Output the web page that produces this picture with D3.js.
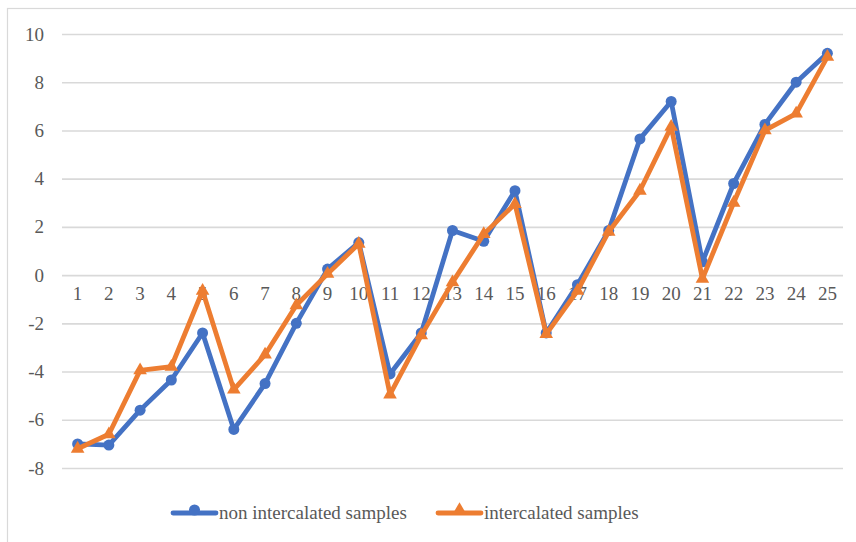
<!DOCTYPE html>
<html>
<head>
<meta charset="utf-8">
<script src="https://cdn.jsdelivr.net/npm/d3@7"></script>
<style>
  html, body { margin: 0; padding: 0; background: #fff; }
  svg { display: block; }
</style>
</head>
<body>
<svg id="chart" width="856" height="542"></svg>
<script>
// Sample numbers along the x axis
const categories = d3.range(1, 26).map(String);

// Measured values per sample
const nonIntercalated = [-7.0, -7.05, -5.6, -4.35, -2.4, -6.4, -4.5, -2.0, 0.25, 1.35,
  -4.1, -2.4, 1.85, 1.4, 3.5, -2.4, -0.4, 1.85, 5.65, 7.2,
  0.55, 3.8, 6.25, 8.0, 9.2];
const intercalated = [-7.2, -6.6, -3.95, -3.8, -0.65, -4.75, -3.3, -1.25, 0.05, 1.3,
  -4.95, -2.5, -0.3, 1.7, 2.95, -2.45, -0.65, 1.8, 3.5, 6.15,
  -0.15, 3.0, 6.0, 6.7, 9.05];

const yTicks = [10, 8, 6, 4, 2, 0, -2, -4, -6, -8];
const seriesNames = ["non intercalated samples", "intercalated samples"];
const seriesColors = ["#4472C4", "#ED7D31"];

const svg = d3.select("#chart");
const font = "'Liberation Serif', 'Times New Roman', serif";
const textColor = "#595959";
const gridColor = "#d9d9d9";

// Outer chart frame
svg.append("rect")
  .attr("x", 7.5).attr("y", 8.5)
  .attr("width", 1000).attr("height", 1000)
  .attr("fill", "none").attr("stroke", gridColor).attr("stroke-width", 1.2);

const plot = { left: 62, right: 843, top: 34, bottom: 468 };

const x = d3.scaleBand().domain(categories).range([plot.left, plot.right]);
const y = d3.scaleLinear().domain([-8, 10]).range([plot.bottom, plot.top]);

// Horizontal gridlines with value labels (plain hyphen for negatives)
const yAxis = d3.axisLeft(y).tickValues(yTicks).tickFormat(d => String(d))
  .tickSize(-(plot.right - plot.left)).tickPadding(18);
const gy = svg.append("g").attr("transform", `translate(${plot.left},0)`).call(yAxis);
gy.select(".domain").remove();
gy.selectAll(".tick line").attr("stroke", gridColor).attr("stroke-width", 1.6);
gy.selectAll(".tick text")
  .attr("fill", textColor).style("font-family", font).style("font-size", "19px");

// Category labels sit just under the zero line
const xAxis = d3.axisBottom(x).tickSize(0).tickPadding(11);
const gx = svg.append("g").attr("transform", `translate(0,${y(0)})`).call(xAxis);
gx.select(".domain").remove();
gx.selectAll(".tick text")
  .attr("fill", textColor).style("font-family", font).style("font-size", "19px");

const cx = d => x(d) + x.bandwidth() / 2;
const line = d3.line().x((d, i) => cx(categories[i])).y(d => y(d));

const circleSym = d3.symbol().type(d3.symbolCircle).size(95);
const triSym = d3.symbol().type(d3.symbolTriangle).size(80);

function drawSeries(values, color, sym) {
  const g = svg.append("g");
  g.selectAll(".mk").data(values).join("path")
    .attr("class", "mk")
    .attr("d", sym)
    .attr("transform", (d, i) => `translate(${cx(categories[i])},${y(d)})`)
    .attr("fill", color);
  g.append("path").datum(values)
    .attr("d", line)
    .attr("fill", "none").attr("stroke", color)
    .attr("stroke-width", 4.8).attr("stroke-linejoin", "round").attr("stroke-linecap", "round");
}

drawSeries(nonIntercalated, seriesColors[0], circleSym);
drawSeries(intercalated, seriesColors[1], triSym);

// Legend
const legend = svg.append("g").attr("transform", "translate(0,513)");
const legendItems = [
  { name: seriesNames[0], color: seriesColors[0], sym: circleSym, x0: 173 },
  { name: seriesNames[1], color: seriesColors[1], sym: triSym, x0: 438 }
];
legendItems.forEach(it => {
  legend.append("line")
    .attr("x1", it.x0).attr("x2", it.x0 + 43).attr("y1", 0).attr("y2", 0)
    .attr("stroke", it.color).attr("stroke-width", 4.8).attr("stroke-linecap", "round");
  legend.append("path").attr("d", it.sym)
    .attr("transform", `translate(${it.x0 + 21.5},-3)`).attr("fill", it.color);
  legend.append("text")
    .attr("x", it.x0 + 46).attr("y", 0).attr("dy", "0.33em")
    .attr("fill", textColor).style("font-family", font).style("font-size", "19px")
    .text(it.name);
});
</script>
</body>
</html>
